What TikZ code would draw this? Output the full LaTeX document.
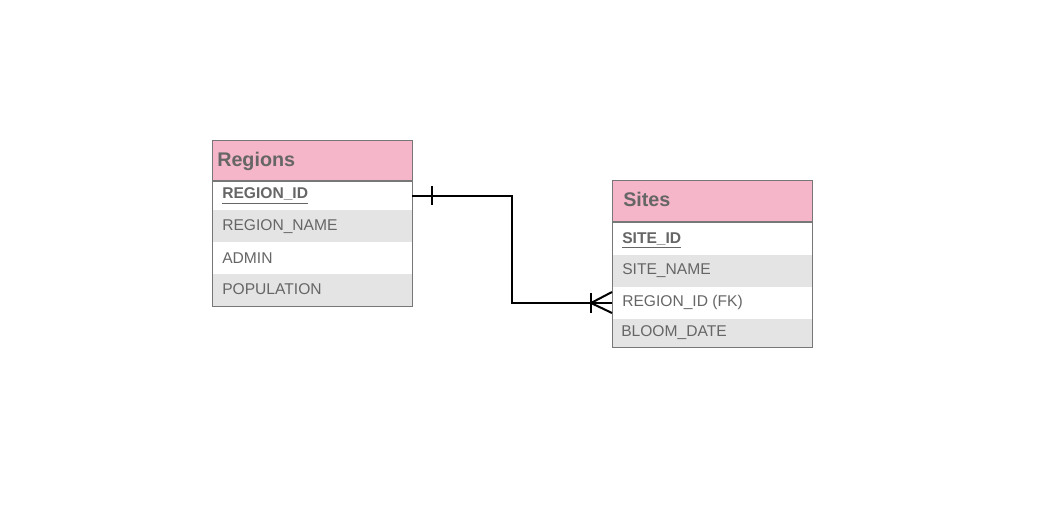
\documentclass[tikz,border=0pt]{standalone}
\usepackage{fontspec}
\setmainfont{Liberation Sans}
\definecolor{hdr}{HTML}{F4B6C8}
\definecolor{rowg}{HTML}{E4E4E4}
\definecolor{bord}{HTML}{777777}
\definecolor{txt}{HTML}{666666}
\begin{document}
\begin{tikzpicture}[x=0.75pt,y=-0.75pt,
  hdrtext/.style={anchor=base west,inner sep=0pt,font=\bfseries\fontsize{14.8}{16}\selectfont,text=txt},
  rowtext/.style={anchor=base west,inner sep=0pt,font=\fontsize{11.7}{13}\selectfont,text=txt},
  keytext/.style={anchor=base west,inner sep=0pt,font=\bfseries\fontsize{11.7}{13}\selectfont,text=txt},
  conn/.style={line width=1.5pt,black}]
\useasboundingbox (0,0) rectangle (1056,513);
% Regions table
\fill[hdr] (212,141) rectangle (412,181);
\fill[white] (212,181) rectangle (412,210);
\fill[rowg] (212,210) rectangle (412,242);
\fill[white] (212,242) rectangle (412,274);
\fill[rowg] (212,274) rectangle (412,306);
\draw[bord,line width=0.9pt] (212,181) -- (412,181);
\draw[bord,line width=0.75pt] (212,141) rectangle (412,306);
\node[hdrtext] (rT) at (217,166.7) {Regions};
\node[keytext] (r1) at (222,199) {\underline{REGION\_ID}};
\node[rowtext] (r2) at (222,231) {REGION\_NAME};
\node[rowtext] (r3) at (222,263) {ADMIN};
\node[rowtext] (r4) at (222,294.5) {POPULATION};
\coordinate (rA) at (412,196);
% Sites table
\fill[hdr] (612,181) rectangle (812,222);
\fill[white] (612,222) rectangle (812,255);
\fill[rowg] (612,255) rectangle (812,287);
\fill[white] (612,287) rectangle (812,319);
\fill[rowg] (612,319) rectangle (812,347);
\draw[bord,line width=0.9pt] (612,222) -- (812,222);
\draw[bord,line width=0.75pt] (612,181) rectangle (812,347);
\node[hdrtext] (sT) at (623,206.7) {Sites};
\node[keytext] (s1) at (622,243.3) {\underline{SITE\_ID}};
\node[rowtext] (s2) at (622,275) {SITE\_NAME};
\node[rowtext] (s3) at (622,306) {REGION\_ID (FK)};
\node[rowtext] (s4) at (621,336.5) {BLOOM\_DATE};
\coordinate (sA) at (612,303);
% connector
\draw[conn] (rA) -- (512,196) |- (sA);
\draw[conn] (432,186) -- (432,205);
\draw[conn] (591,293) -- (591,313);
\draw[conn] (612,292) -- (591,303) -- (612,313);
\end{tikzpicture}
\end{document}
